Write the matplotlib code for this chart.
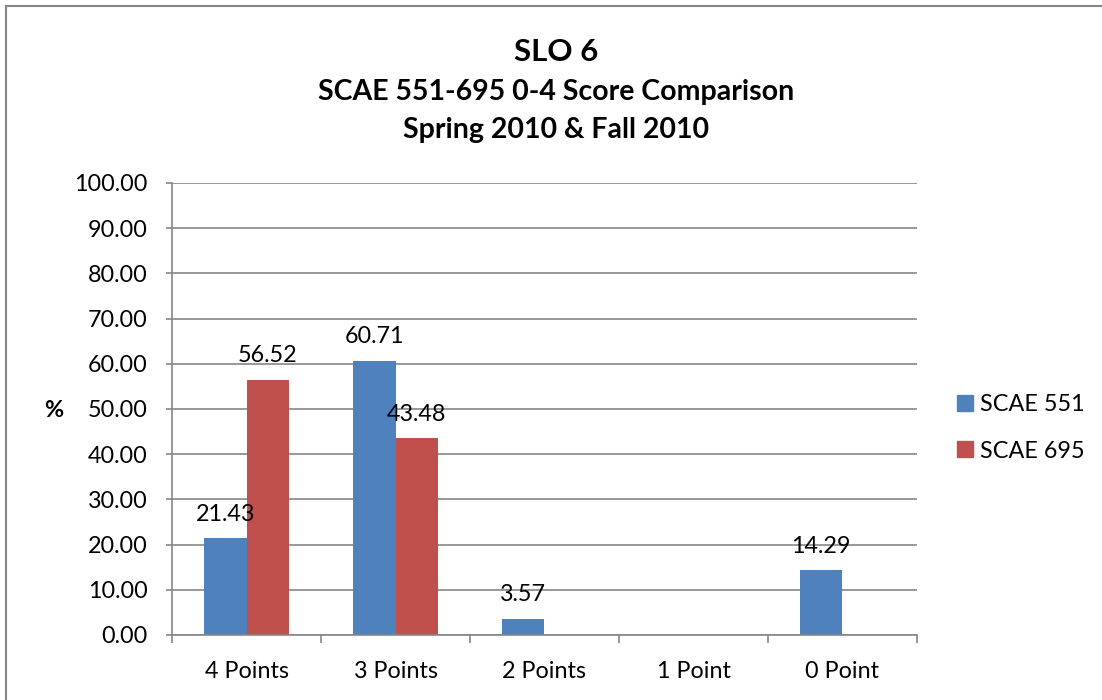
import numpy as np
import matplotlib
matplotlib.use('Agg')
from matplotlib import pyplot as plt
from matplotlib.lines import Line2D

plt.rcParams['font.family'] = ['Lato', 'DejaVu Sans']

categories = ['4 Points', '3 Points', '2 Points', '1 Point', '0 Point']
scae551 = [21.43, 60.71, 3.57, 0, 14.29]
scae695 = [56.52, 43.48, 0, 0, 0]
yticks = np.arange(0, 101, 10)

blue = '#4f81bd'
red = '#c0504d'
grey = '#868686'
fs = 16.8

fig = plt.figure(figsize=(11.02, 7.0), dpi=100)
ax = fig.add_axes([0.1561, 0.0929, 0.676, 0.6457])

x = np.arange(len(categories))
w = 0.288
b1 = ax.bar(x - w/2, scae551, w, color=blue, label='SCAE 551')
b2 = ax.bar(x + w/2, scae695, w, color=red, label='SCAE 695')

for bars, vals in ((b1, scae551), (b2, scae695)):
    for r, v in zip(bars, vals):
        if v > 0:
            ax.text(r.get_x() + r.get_width()/2, v + 3.0, '%.2f' % v,
                    ha='center', va='bottom', fontsize=fs)

ax.set_xlim(-0.5, len(categories) - 0.5)
ax.set_ylim(0, 100)
ax.set_yticks(yticks)
ax.set_yticklabels(['%.2f' % t for t in yticks], fontsize=fs)
ax.yaxis.grid(True, color=grey, lw=1.2)
ax.set_axisbelow(True)

ax.set_xticks(x)
ax.set_xticklabels(categories, fontsize=fs)
ax.tick_params(axis='x', length=0, pad=19)
ax.set_xticks(np.arange(-0.5, len(categories)), minor=True)
ax.tick_params(axis='x', which='minor', length=6, color=grey, width=1.2)
ax.tick_params(axis='y', length=4.3, color=grey, width=1.2, pad=13)

for s in ('top', 'right'):
    ax.spines[s].set_visible(False)
for s in ('left', 'bottom'):
    ax.spines[s].set_color(grey)
    ax.spines[s].set_linewidth(1.2)

fig.text(0.049, 0.414, '%', fontsize=fs, fontweight='bold', ha='center', va='center')

fig.text(0.505, 0.926, 'SLO 6', fontsize=22.5, fontweight='bold', ha='center', va='center')
fig.text(0.505, 0.868, 'SCAE 551-695 0-4 Score Comparison', fontsize=20.5,
         fontweight='bold', ha='center', va='center')
fig.text(0.505, 0.814, 'Spring 2010 & Fall 2010', fontsize=20.5,
         fontweight='bold', ha='center', va='center')

handles = [Line2D([], [], marker='s', ls='none', color=blue, markersize=11),
           Line2D([], [], marker='s', ls='none', color=red, markersize=11)]
fig.legend(handles, ['SCAE 551', 'SCAE 695'], loc='center left',
           bbox_to_anchor=(0.849, 0.389), frameon=False, fontsize=fs,
           handlelength=0.7, handletextpad=0.3, labelspacing=1.1)

# chart area frame (left and top edges visible)
fig.add_artist(Line2D([0.0050, 0.0050], [0.991, 0.0], transform=fig.transFigure,
                      color=grey, lw=1.5))
fig.add_artist(Line2D([0.0050, 1.0], [0.991, 0.991], transform=fig.transFigure,
                      color=grey, lw=1.5))

fig.savefig('out.png', dpi=100)
